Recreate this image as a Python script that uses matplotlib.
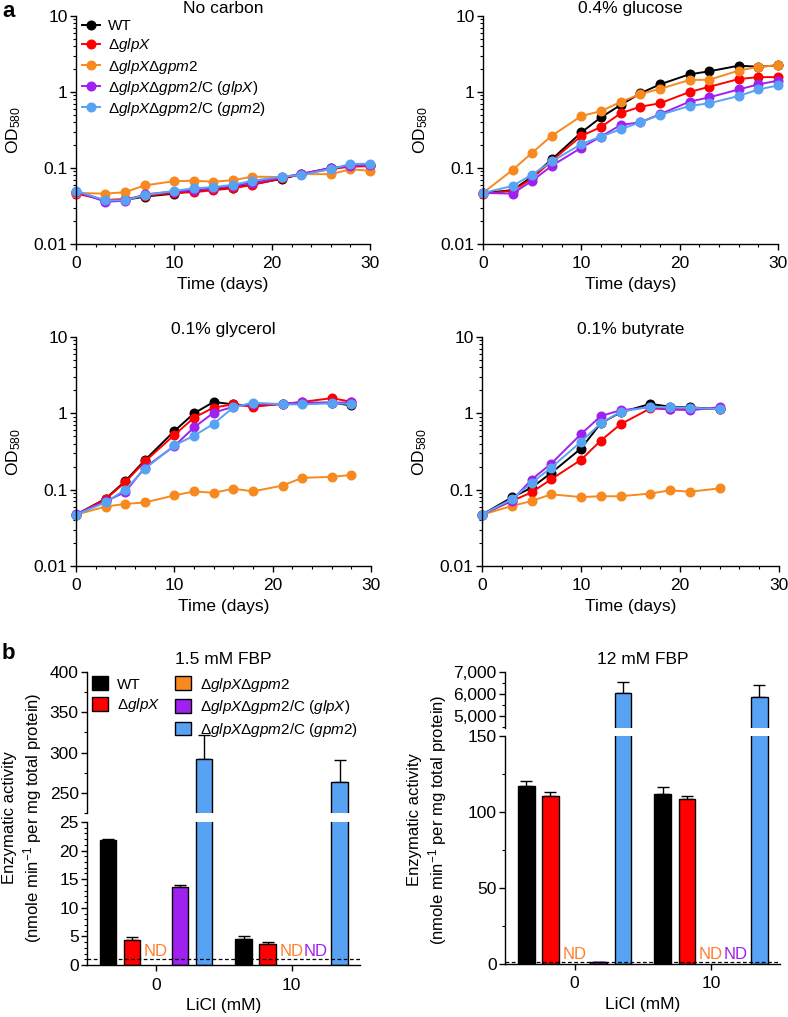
import numpy as np
import matplotlib
matplotlib.use('Agg')
import matplotlib.pyplot as plt
from matplotlib.ticker import MultipleLocator, LogLocator, NullFormatter
from matplotlib.patches import Patch
from matplotlib.lines import Line2D

plt.rcParams['font.family'] = ['Liberation Sans', 'DejaVu Sans']
plt.rcParams['mathtext.fontset'] = 'custom'
plt.rcParams['mathtext.rm'] = 'Liberation Sans'
plt.rcParams['mathtext.it'] = 'Liberation Sans:italic'
plt.rcParams['axes.linewidth'] = 1.0

# ---- panel a data: OD580 over time (days) ----
days_a = [0, 3, 5, 7, 10, 12, 14, 16, 18, 21, 23, 26, 28, 30]
days_gly = [0, 3, 5, 7, 10, 12, 14, 16, 18, 21, 23, 26, 28]
days_but = [0, 3, 5, 7, 10, 12, 14, 17, 19, 21, 24]

noc_wt = [0.049, 0.037, 0.038, 0.042, 0.046, 0.050, 0.053, 0.055, 0.061, 0.072, 0.083, 0.100, 0.106, 0.108]
noc_glpx = [0.046, 0.038, 0.039, 0.043, 0.047, 0.048, 0.051, 0.054, 0.060, 0.073, 0.083, 0.097, 0.104, 0.106]
noc_dd = [0.047, 0.046, 0.048, 0.059, 0.067, 0.068, 0.066, 0.069, 0.077, 0.076, 0.083, 0.083, 0.096, 0.092]
noc_cglpx = [0.049, 0.036, 0.037, 0.045, 0.049, 0.051, 0.054, 0.058, 0.064, 0.075, 0.084, 0.100, 0.106, 0.110]
noc_cgpm2 = [0.050, 0.0375, 0.0375, 0.044, 0.050, 0.054, 0.056, 0.060, 0.068, 0.077, 0.081, 0.097, 0.113, 0.114]

glu_wt = [0.047, 0.051, 0.077, 0.13, 0.294, 0.464, 0.675, 0.96, 1.26, 1.71, 1.87, 2.22, 2.15, 2.24]
glu_glpx = [0.046, 0.050, 0.073, 0.125, 0.264, 0.346, 0.525, 0.64, 0.71, 1.0, 1.17, 1.48, 1.57, 1.57]
glu_dd = [0.047, 0.094, 0.159, 0.266, 0.483, 0.56, 0.74, 0.94, 1.1, 1.44, 1.45, 1.91, 2.15, 2.24]
glu_cglpx = [0.047, 0.046, 0.068, 0.107, 0.185, 0.259, 0.368, 0.40, 0.51, 0.746, 0.85, 1.08, 1.26, 1.41]
glu_cgpm2 = [0.047, 0.058, 0.082, 0.122, 0.207, 0.259, 0.323, 0.40, 0.50, 0.655, 0.71, 0.886, 1.08, 1.22]

gly_wt = [0.047, 0.076, 0.129, 0.243, 0.586, 1.0, 1.41, 1.31, 1.25, 1.33, 1.35, 1.38, 1.27]
gly_glpx = [0.047, 0.075, 0.125, 0.234, 0.52, 0.877, 1.19, 1.31, 1.22, 1.33, 1.41, 1.58, 1.42]
gly_dd = [0.047, 0.060, 0.065, 0.068, 0.084, 0.095, 0.091, 0.103, 0.095, 0.113, 0.143, 0.147, 0.156]
gly_cglpx = [0.048, 0.070, 0.093, 0.195, 0.372, 0.654, 1.02, 1.22, 1.33, 1.33, 1.39, 1.38, 1.39]
gly_cgpm2 = [0.047, 0.068, 0.100, 0.187, 0.38, 0.508, 0.73, 1.2, 1.38, 1.31, 1.31, 1.35, 1.33]

but_wt = [0.047, 0.079, 0.106, 0.166, 0.346, 0.74, 1.03, 1.33, 1.22, 1.2, 1.13]
but_glpx = [0.047, 0.071, 0.092, 0.137, 0.246, 0.44, 0.72, 1.16, 1.13, 1.13, 1.15]
but_dd = [0.047, 0.061, 0.071, 0.087, 0.080, 0.082, 0.082, 0.089, 0.098, 0.094, 0.104]
but_cglpx = [0.047, 0.072, 0.135, 0.22, 0.535, 0.92, 1.1, 1.2, 1.13, 1.1, 1.2]
but_cgpm2 = [0.047, 0.075, 0.122, 0.195, 0.424, 0.74, 1.05, 1.22, 1.2, 1.19, 1.13]

# ---- panel b data: enzymatic activity, LiCl 0 and 10 mM (nan = ND) ----
licl = ['0', '10']
f15_wt, f15_wt_err = [21.8, 4.6], [0.15, 0.5]
f15_glpx, f15_glpx_err = [4.3, 3.75], [0.6, 0.35]
f15_dd, f15_dd_err = [np.nan, np.nan], [0, 0]
f15_cglpx, f15_cglpx_err = [13.6, np.nan], [0.35, 0]
f15_cgpm2, f15_cgpm2_err = [291.8, 263.0], [30, 28]

f12_wt, f12_wt_err = [117.1, 111.7], [3.3, 4.6]
f12_glpx, f12_glpx_err = [110.8, 108.4], [2.6, 2.0]
f12_dd, f12_dd_err = [np.nan, np.nan], [0, 0]
f12_cglpx, f12_cglpx_err = [1.3, np.nan], [0.3, 0]
f12_cgpm2, f12_cgpm2_err = [6045, 5851], [520, 540]

detect_limit = 1.0

colors = ['#000000', '#ff0000', '#f7891f', '#a020f0', '#58a2f4']
nd_colors = ['#000000', '#ff0000', '#ff7f2a', '#a020f0', '#58a2f4']
strain_labels = ['WT',
                 'Δ$\\mathit{glpX}$',
                 'Δ$\\mathit{glpX}$Δ$\\mathit{gpm2}$',
                 'Δ$\\mathit{glpX}$Δ$\\mathit{gpm2}$/C ($\\mathit{glpX}$)',
                 'Δ$\\mathit{glpX}$Δ$\\mathit{gpm2}$/C ($\\mathit{gpm2}$)']

W, H = 788, 1017
fig = plt.figure(figsize=(W / 100, H / 100), dpi=100)


def px_axes(l, t, r, b):
    return fig.add_axes([l / W, 1 - b / H, (r - l) / W, (b - t) / H])


FS = 12.5


def growth_panel(box, title, days, series):
    ax = px_axes(*box)
    for vals, c, lab in zip(series, colors, strain_labels):
        ax.plot(days, vals, '-o', color=c, lw=1.4, ms=6.2, label=lab, clip_on=False)
    ax.set_yscale('log')
    ax.set_ylim(0.01, 10)
    ax.set_xlim(0, 30)
    ax.set_yticks([0.01, 0.1, 1, 10])
    ax.set_yticklabels(['0.01', '0.1', '1', '10'])
    ax.yaxis.set_minor_locator(LogLocator(base=10, subs=np.arange(2, 10)))
    ax.yaxis.set_minor_formatter(NullFormatter())
    ax.set_xticks([0, 10, 20, 30])
    ax.xaxis.set_minor_locator(MultipleLocator(2))
    for s in ['top', 'right']:
        ax.spines[s].set_visible(False)
    ax.tick_params(which='major', length=4, width=1, labelsize=FS)
    ax.tick_params(which='minor', length=2.5, width=0.8)
    ax.tick_params(axis='x', pad=5)
    ax.tick_params(axis='y', pad=2)
    ax.set_xlabel('Time (days)', fontsize=FS, labelpad=4)
    ax.set_ylabel('OD$_{580}$', fontsize=12.5)
    ax.yaxis.set_label_coords(-0.18, 0.5)
    ax.set_title(title, fontsize=FS, pad=2)
    return ax


ax1 = growth_panel((76, 16, 370, 244), 'No carbon', days_a,
                   [noc_wt, noc_glpx, noc_dd, noc_cglpx, noc_cgpm2])
growth_panel((483, 16, 778, 244), '0.4% glucose', days_a,
             [glu_wt, glu_glpx, glu_dd, glu_cglpx, glu_cgpm2])
growth_panel((76, 337, 371, 566), '0.1% glycerol', days_gly,
             [gly_wt, gly_glpx, gly_dd, gly_cglpx, gly_cgpm2])
growth_panel((482, 337, 779, 566), '0.1% butyrate', days_but,
             [but_wt, but_glpx, but_dd, but_cglpx, but_cgpm2])

ax1.legend(loc='upper left', bbox_to_anchor=(0.02, 0.985), frameon=False,
           fontsize=11, handlelength=1.2, handletextpad=0.5, labelspacing=0.2,
           borderaxespad=0, borderpad=0)

# ---- panel b ----
STEP = 0.177
BW = 0.122


def bar_panel(top_box, bot_box, top_lim, bot_lim, series, errs, title,
              top_ticks, top_labels, top_minor, bot_ticks, bot_minor):
    axt = px_axes(*top_box)
    axb = px_axes(*bot_box)
    xg = np.arange(len(licl))
    for i, (vals, err) in enumerate(zip(series, errs)):
        xs = xg + (i - 2) * STEP
        for x, v, e in zip(xs, vals, err):
            if np.isnan(v):
                axb.annotate('ND', xy=(x, detect_limit), xytext=(0, 0.5),
                             textcoords='offset points', ha='center', va='bottom',
                             color=nd_colors[i], fontsize=12)
                continue
            for ax in (axt, axb):
                ax.bar(x, v, BW, color=colors[i], edgecolor='black', lw=1, zorder=2)
                ax.errorbar(x, v, yerr=[[0], [e]], fmt='none', ecolor='black',
                            elinewidth=1, capsize=4, capthick=1, zorder=1)
    for ax in (axt, axb):
        ax.set_xlim(-0.51, 1.505)
        for s in ['top', 'right']:
            ax.spines[s].set_visible(False)
        ax.tick_params(which='major', length=4, width=1, labelsize=FS, pad=2)
        ax.tick_params(which='minor', length=2.5, width=0.8)
    axt.set_ylim(*top_lim)
    axb.set_ylim(*bot_lim)
    axt.spines['bottom'].set_visible(False)
    axt.tick_params(axis='x', bottom=False, labelbottom=False)
    axt.set_yticks(top_ticks)
    axt.set_yticklabels(top_labels)
    axt.yaxis.set_minor_locator(MultipleLocator(top_minor))
    axb.set_yticks(bot_ticks)
    axb.yaxis.set_minor_locator(MultipleLocator(bot_minor))
    axb.set_xticks(xg)
    axb.set_xticklabels(licl)
    axb.tick_params(axis='x', pad=5)
    axb.axhline(detect_limit, color='black', ls=(0, (3, 2)), lw=0.9, zorder=3)
    axb.set_xlabel('LiCl (mM)', fontsize=FS, labelpad=4)
    axt.set_title(title, fontsize=FS, pad=6)
    return axt, axb


axt_l, axb_l = bar_panel((87, 672, 360, 813), (87, 822, 360, 965), (225, 400), (0, 25),
                         [f15_wt, f15_glpx, f15_dd, f15_cglpx, f15_cgpm2],
                         [f15_wt_err, f15_glpx_err, f15_dd_err, f15_cglpx_err, f15_cgpm2_err],
                         '1.5 mM FBP', [250, 300, 350, 400], ['250', '300', '350', '400'], 25,
                         [0, 5, 10, 15, 20, 25], 1)
bar_panel((505, 672, 780, 728), (505, 736, 780, 964), (4450, 7000), (0, 150),
          [f12_wt, f12_glpx, f12_dd, f12_cglpx, f12_cgpm2],
          [f12_wt_err, f12_glpx_err, f12_dd_err, f12_cglpx_err, f12_cgpm2_err],
          '12 mM FBP', [5000, 6000, 7000], ['5,000', '6,000', '7,000'], 500,
          [0, 50, 100, 150], 25)

handles = [Patch(facecolor=c, edgecolor='black', lw=1) for c in colors]
blank = Line2D([], [], linestyle='none')
axt_l.legend([handles[0], handles[1], blank, handles[2], handles[3], handles[4]],
             [strain_labels[0], strain_labels[1], '', strain_labels[2],
              strain_labels[3], strain_labels[4]],
             ncol=2, loc='upper left', bbox_to_anchor=(0.02, 0.975), frameon=False,
             fontsize=11, handlelength=1.0, handleheight=1.0, handletextpad=0.6,
             labelspacing=0.3, columnspacing=1.0, borderaxespad=0, borderpad=0)

ylab_b = 'Enzymatic activity\n(nmole min$^{-1}$ per mg total protein)'
fig.text(23 / W, 1 - 818 / H, ylab_b, rotation=90, ha='center', va='center',
         fontsize=12, multialignment='center', linespacing=1.25)
fig.text(428 / W, 1 - 820 / H, ylab_b, rotation=90, ha='center', va='center',
         fontsize=12, multialignment='center', linespacing=1.25)

fig.text(2 / W, 1 - 1 / H, 'a', fontsize=16, fontweight='bold', va='top', ha='left')
fig.text(2 / W, 1 - 643 / H, 'b', fontsize=16, fontweight='bold', va='top', ha='left')

fig.savefig('out.png', dpi=100)
